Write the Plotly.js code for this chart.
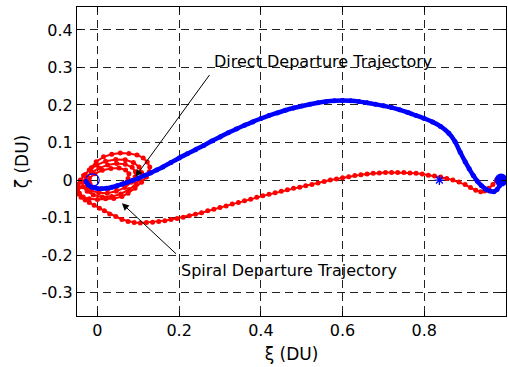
<!DOCTYPE html>
<html>
<head>
<meta charset="utf-8">
<script src="https://cdn.plot.ly/plotly-3.0.1.min.js"></script>
<style>html,body{margin:0;padding:0;background:#fff;}#plot{width:508px;height:367px;}</style>
</head>
<body>
<div id="plot"></div>
<script>
// Direct departure: Earth -> over the top -> Moon (ξ, ζ in DU)
const directX = [-0.028,-0.022,-0.013,-0.002,0.010,0.022,0.035,0.048,0.060,0.073,0.086,0.100,0.115,0.130,0.145,0.160,0.180,
  0.200,0.220,0.240,0.260,0.280,0.300,0.320,0.340,0.360,0.380,0.400,0.420,0.440,0.460,0.480,0.500,0.520,0.540,0.560,0.580,
  0.600,0.620,0.640,0.660,0.680,0.700,0.720,0.740,0.760,0.780,0.800,0.820,0.840,0.860,0.875,0.888,0.900,0.910,0.920,0.930,
  0.940,0.950,0.960,0.970,0.978,0.984,0.988,0.990];
const directY = [-0.004,-0.013,-0.019,-0.022,-0.023,-0.022,-0.019,-0.015,-0.011,-0.006,-0.001,0.005,0.012,0.019,0.027,0.035,0.047,
  0.059,0.070,0.081,0.092,0.104,0.115,0.126,0.136,0.146,0.155,0.164,0.172,0.179,0.186,0.192,0.197,0.202,0.206,0.209,0.211,
  0.212,0.211,0.209,0.206,0.202,0.198,0.193,0.187,0.180,0.172,0.164,0.155,0.143,0.125,0.103,0.074,0.049,0.030,0.012,-0.003,
  -0.015,-0.024,-0.029,-0.031,-0.025,-0.015,-0.005,0.002];

// Spiral departure: loops around Earth growing outward, then transfer to the Moon
const spiralX = [-0.020,-0.018,-0.008,0.007,0.026,0.046,0.064,0.075,0.077,0.069,0.053,0.033,0.012,-0.006,-0.020,-0.028,
  -0.027,-0.015,0.003,0.024,0.046,0.067,0.083,0.092,0.093,0.085,0.068,0.047,0.025,0.004,-0.014,-0.028,-0.036,
  -0.036,-0.025,-0.010,0.012,0.035,0.057,0.078,0.095,0.105,0.108,0.102,0.088,0.068,0.045,0.020,-0.002,-0.020,-0.034,-0.042,
  -0.046,-0.044,-0.035,-0.020,0.000,0.020,0.040,0.060,0.075,0.092,0.108,0.120,0.127,0.128,0.122,0.112,0.097,0.077,0.056,0.035,0.015,-0.003,-0.015,-0.030,-0.042,-0.050,
  -0.053,-0.048,-0.040,-0.030,-0.020,-0.008,0.005,0.017,0.030,0.045,0.060,0.075,0.090,0.105,0.120,0.135,0.150,0.165,0.180,0.195,
  0.210,0.225,0.240,0.255,0.270,0.285,0.300,0.315,0.330,0.345,0.360,0.375,0.390,0.405,0.420,0.435,0.450,0.465,0.480,0.495,
  0.510,0.525,0.540,0.555,0.570,0.585,0.600,0.615,0.630,0.645,0.660,0.675,0.690,0.705,0.720,0.735,0.750,0.765,0.780,0.795,
  0.810,0.825,0.840,0.855,0.870,0.885,0.900,0.913,0.926,0.938,0.948,0.958,0.968,0.977,0.984,0.988];
const spiralY = [-0.005,-0.011,-0.019,-0.024,-0.024,-0.019,-0.009,0.004,0.017,0.027,0.032,0.031,0.026,0.017,0.005,-0.006,
  -0.018,-0.028,-0.034,-0.035,-0.030,-0.020,-0.006,0.008,0.022,0.034,0.042,0.044,0.040,0.032,0.021,0.008,
  -0.005,-0.018,-0.030,-0.040,-0.045,-0.044,-0.037,-0.025,-0.010,0.005,0.020,0.035,0.047,0.054,0.055,0.050,0.040,0.027,0.012,
  -0.005,-0.020,-0.035,-0.045,-0.050,-0.052,-0.050,-0.049,-0.044,-0.035,-0.022,-0.006,0.008,0.022,0.035,0.048,0.059,0.067,0.071,0.072,0.069,0.062,0.049,0.033,0.015,0.000,
  -0.012,-0.025,-0.037,-0.046,-0.053,-0.060,-0.067,-0.075,-0.082,-0.090,-0.097,-0.105,-0.110,-0.113,-0.114,-0.113,-0.112,-0.110,-0.108,
  -0.105,-0.102,-0.099,-0.095,-0.091,-0.087,-0.082,-0.078,-0.073,-0.069,-0.064,-0.060,-0.055,-0.051,-0.046,-0.042,-0.038,-0.034,-0.030,-0.026,
  -0.022,-0.019,-0.015,-0.012,-0.008,-0.004,0.000,0.003,0.006,0.009,0.012,0.014,0.016,0.018,0.019,0.020,0.020,0.020,0.020,0.019,
  0.018,0.016,0.013,0.011,0.008,0.004,0.000,-0.005,-0.012,-0.020,-0.027,-0.031,-0.029,-0.022,-0.012,0.000];

// Primaries and libration point (DU)
const earthX = -0.01215, earthY = 0, earthR = 0.0166;
const moonX = [0.988], moonY = [0];
const l1X = [0.837], l1Y = [0];

const xTicks = [0, 0.2, 0.4, 0.6, 0.8, 1];
const xTickText = ['0', '0.2', '0.4', '0.6', '0.8', '1'];
const yTicks = [-0.3, -0.2, -0.1, 0, 0.1, 0.2, 0.3, 0.4];
const yTickText = ['-0.3', '-0.2', '-0.1', '0', '0.1', '0.2', '0.3', '0.4'];

const FONT = 'DejaVu Sans, Arial, sans-serif';

const traces = [
  {x: spiralX, y: spiralY, mode: 'lines+markers', line: {color: '#ff0000', width: 2},
   marker: {color: '#ff0000', size: 5}, hoverinfo: 'skip'},
  {x: directX, y: directY, mode: 'lines+markers', line: {color: '#0000ff', width: 4.5, shape: 'spline', smoothing: 0.6},
   marker: {color: '#0000ff', size: 5}, hoverinfo: 'skip'},
  {x: moonX, y: moonY, mode: 'markers', marker: {color: '#0000ff', size: 13}, hoverinfo: 'skip'},
  {x: l1X, y: l1Y, mode: 'markers', marker: {color: '#0000ff', size: 8, symbol: 'asterisk-open', line: {color: '#0000ff', width: 1.3}}, hoverinfo: 'skip'}
];

const axisCommon = {
  showline: true, linecolor: '#000', linewidth: 1, mirror: 'ticks',
  ticks: 'inside', ticklen: 5, tickcolor: '#000', tickwidth: 1,
  showgrid: true, gridcolor: '#222', gridwidth: 1, griddash: '8px,5px',
  zeroline: false, tickfont: {family: FONT, size: 16, color: '#000'}
};

const layout = {
  width: 508, height: 367,
  margin: {l: 77, r: 2, t: 7, b: 51},
  paper_bgcolor: '#fff', plot_bgcolor: '#fff',
  showlegend: false,
  font: {family: FONT, size: 16, color: '#000'},
  xaxis: Object.assign({}, axisCommon, {
    range: [-0.05, 1.0], tickvals: xTicks, ticktext: xTickText,
    title: {text: 'ξ (DU)', font: {family: FONT, size: 17}, standoff: 8}
  }),
  yaxis: Object.assign({}, axisCommon, {
    range: [-0.362, 0.461], tickvals: yTicks, ticktext: yTickText,
    title: {text: 'ζ (DU)', font: {family: FONT, size: 17}, standoff: 8}
  }),
  shapes: [
    {type: 'circle', xref: 'x', yref: 'y', x0: earthX - earthR, x1: earthX + earthR,
     y0: earthY - earthR, y1: earthY + earthR, line: {color: '#0000ff', width: 1.2}}
  ],
  annotations: [
    {x: 0.2815, y: 0.315, xref: 'x', yref: 'y', text: 'Direct Departure Trajectory', showarrow: false,
     xanchor: 'left', yanchor: 'middle', font: {family: FONT, size: 16, color: '#000'}},
    {x: 0.2007, y: -0.240, xref: 'x', yref: 'y', text: 'Spiral Departure Trajectory', showarrow: false,
     xanchor: 'left', yanchor: 'middle', font: {family: FONT, size: 16, color: '#000'}},
    {x: 0.093, y: 0.009, ax: 0.277, ay: 0.284, xref: 'x', yref: 'y', axref: 'x', ayref: 'y',
     text: '', showarrow: true, arrowhead: 2, arrowsize: 1.4, arrowwidth: 1, arrowcolor: '#000', standoff: 0},
    {x: 0.060, y: -0.062, ax: 0.196, ay: -0.200, xref: 'x', yref: 'y', axref: 'x', ayref: 'y',
     text: '', showarrow: true, arrowhead: 2, arrowsize: 1.4, arrowwidth: 1, arrowcolor: '#000', standoff: 0}
  ]
};

Plotly.newPlot('plot', traces, layout, {staticPlot: true, displayModeBar: false});
</script>
</body>
</html>
